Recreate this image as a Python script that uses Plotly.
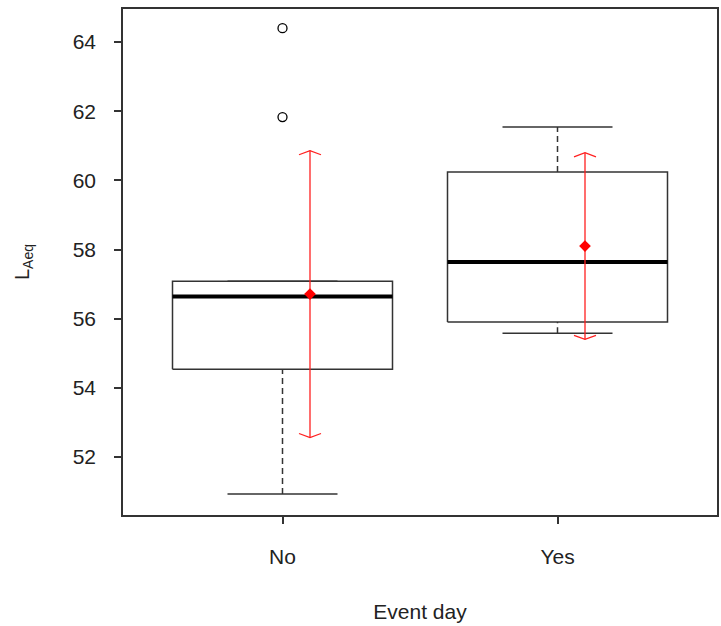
import plotly.graph_objects as go

groups = ["No", "Yes"]
positions = [1, 2]
lower_whisker = [50.93, 55.58]
q1 = [54.54, 55.90]
median = [56.64, 57.64]
q3 = [57.08, 60.24]
upper_whisker = [57.08, 61.54]
outlier_group = [1, 1]
outlier_values = [61.83, 64.40]
means = [56.71, 58.10]
sds = [4.15, 2.70]

BOX_HALF = 0.4
CAP_HALF = 0.2
MEAN_OFFSET = 0.1
ARROW_HALF = 0.04
ARROW_DROP = 0.12
DARK = "#333333"
RED = "#ff2020"

fig = go.Figure()

def line(xs, ys, color=DARK, width=1.5, dash="solid"):
    fig.add_trace(go.Scatter(x=xs, y=ys, mode="lines", showlegend=False, hoverinfo="skip",
                             line=dict(color=color, width=width, dash=dash)))

for i, p in enumerate(positions):
    # whiskers (dashed)
    line([p, p], [lower_whisker[i], q1[i]], dash="6px,4px")
    line([p, p], [q3[i], upper_whisker[i]], dash="6px,4px")
    # caps
    line([p - CAP_HALF, p + CAP_HALF], [lower_whisker[i]] * 2)
    line([p - CAP_HALF, p + CAP_HALF], [upper_whisker[i]] * 2)
    # box
    line([p - BOX_HALF, p + BOX_HALF, p + BOX_HALF, p - BOX_HALF, p - BOX_HALF],
         [q1[i], q1[i], q3[i], q3[i], q1[i]])
    # median
    line([p - BOX_HALF, p + BOX_HALF], [median[i]] * 2, color="black", width=4)

# outliers
fig.add_trace(go.Scatter(x=outlier_group, y=outlier_values, mode="markers", showlegend=False,
                         marker=dict(symbol="circle-open", size=9, color="black", line=dict(width=1.3))))

# mean +/- sd
for i, p in enumerate(positions):
    xm = p + MEAN_OFFSET
    top = means[i] + sds[i]
    bot = means[i] - sds[i]
    line([xm, xm], [bot, top], color=RED, width=1.3)
    line([xm - ARROW_HALF, xm, xm + ARROW_HALF], [top - ARROW_DROP, top, top - ARROW_DROP], color=RED, width=1.3)
    line([xm - ARROW_HALF, xm, xm + ARROW_HALF], [bot + ARROW_DROP, bot, bot + ARROW_DROP], color=RED, width=1.3)

fig.add_trace(go.Scatter(x=[p + MEAN_OFFSET for p in positions], y=means, mode="markers", showlegend=False,
                         marker=dict(symbol="diamond", size=9, color="red")))

FAM = "Liberation Sans, Arial, sans-serif"
tickfont = dict(family=FAM, size=21, color="#222222")

fig.update_layout(
    width=721, height=626,
    margin=dict(l=123, r=2, t=9, b=111),
    plot_bgcolor="white", paper_bgcolor="white",
    font=dict(family=FAM, size=21, color="#222222"),
    xaxis=dict(range=[0.42, 2.58], tickvals=positions, ticktext=groups, ticks="outside", ticklen=7,
               tickcolor=DARK, tickwidth=1.5, showgrid=False, zeroline=False, showline=True, mirror=True,
               linecolor=DARK, linewidth=1.5, ticklabelstandoff=15, tickfont=tickfont,
               title=dict(text="Event day", standoff=37, font=dict(family=FAM, size=21, color="#222222"))),
    yaxis=dict(range=[50.323, 64.954], tickvals=[52, 54, 56, 58, 60, 62, 64], ticks="outside", ticklen=7,
               tickcolor=DARK, tickwidth=1.5, showgrid=False, zeroline=False, showline=True, mirror=True,
               linecolor=DARK, linewidth=1.5, ticklabelstandoff=14, tickfont=tickfont,
               title=dict(text="L<sub>Aeq</sub>", standoff=38, font=dict(family=FAM, size=20, color="#222222"))),
)

fig.write_html("out.html")
